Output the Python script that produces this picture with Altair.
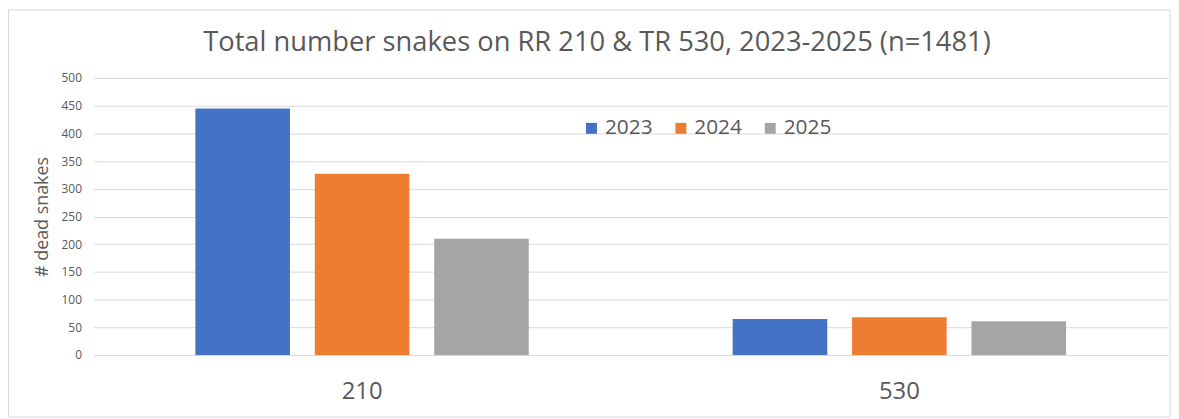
import altair as alt
import pandas as pd

routes = ["210", "530"]
years = ["2023", "2024", "2025"]
values_2023 = [445, 65]
values_2024 = [327, 68]
values_2025 = [210, 61]
colors = ["#4472C4", "#ED7D31", "#A5A5A5"]
y_ticks = [0, 50, 100, 150, 200, 250, 300, 350, 400, 450, 500]

rows = []
for yr, vals in zip(years, [values_2023, values_2024, values_2025]):
    for r, v in zip(routes, vals):
        rows.append({"route": r, "year": yr, "count": v})
df = pd.DataFrame(rows)

FONT = "Open Sans"
TXT = "#595959"

bars = alt.Chart(df).mark_bar().encode(
    x=alt.X("route:N", sort=routes,
            scale=alt.Scale(paddingInner=0, paddingOuter=0),
            axis=alt.Axis(title=None, labelAngle=0, labelFontSize=24, labelColor=TXT,
                          labelFont=FONT, ticks=False, domain=False, labelPadding=25,
                          grid=False)),
    xOffset=alt.XOffset("year:N", sort=years,
                        scale=alt.Scale(paddingInner=0.208, paddingOuter=0.854)),
    y=alt.Y("count:Q", scale=alt.Scale(domain=[0, 500], nice=False),
            axis=alt.Axis(title="# dead snakes", values=y_ticks, labelFontSize=12,
                          labelColor=TXT, labelFont=FONT, titleFont=FONT,
                          titleFontSize=18, titleColor=TXT, titleFontWeight="normal",
                          ticks=False, domain=False, labelPadding=12, titlePadding=10,
                          gridColor="#D9D9D9", gridWidth=1)),
    color=alt.Color("year:N", sort=years,
                    scale=alt.Scale(domain=years, range=colors),
                    legend=alt.Legend(orient="none", legendX=491, legendY=40,
                                      direction="horizontal", columns=3, title=None,
                                      symbolType="square", symbolSize=121,
                                      symbolStrokeWidth=0, labelFontSize=21,
                                      labelFont=FONT, labelColor=TXT, labelOffset=3,
                                      columnPadding=17, padding=0)),
)

frame = alt.Chart(pd.DataFrame({"a": [0]})).mark_rect(
    fill=None, stroke="#D9D9D9", strokeWidth=1
).encode(x=alt.value(-85.5), x2=alt.value(1084), y=alt.value(-68.5), y2=alt.value(341.5))

chart = alt.layer(frame, bars).properties(
    width=1082, height=279,
    title=alt.TitleParams("Total number snakes on RR 210 & TR 530, 2023-2025 (n=1481)",
                          font=FONT, fontSize=27.5, fontWeight="normal", color=TXT,
                          anchor="middle", dx=-34, offset=-69, baseline="alphabetic"),
    autosize=alt.AutoSizeParams(type="none"),
    padding={"left": 86, "top": 69, "right": 3, "bottom": 63},
).configure_view(stroke=None)

chart.save("out.html", embed_options={"renderer": "svg", "actions": False})
